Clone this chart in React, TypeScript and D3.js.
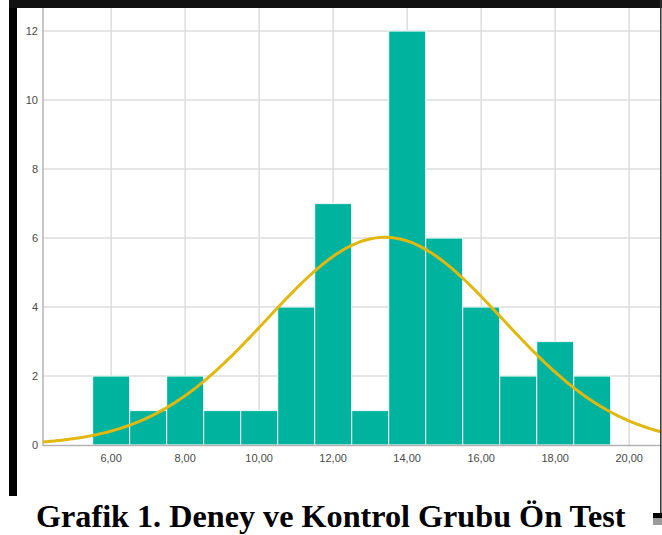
import React from 'react';
import * as d3 from 'd3';

// histogram bins (bin centre, count)
const binCenters = [6, 7, 8, 9, 10, 11, 12, 13, 14, 15, 16, 17, 18, 19];
const binCounts = [2, 1, 2, 1, 1, 4, 7, 1, 12, 6, 4, 2, 3, 2];
const xTicks = [6, 8, 10, 12, 14, 16, 18, 20];
const yTicks = [0, 2, 4, 6, 8, 10, 12];
const caption = 'Grafik 1. Deney ve Kontrol Grubu Ön Test';

const W = 662;
const H = 535;

const App = () => {
  const x = d3.scaleLinear().domain([4.16, 20.86]).range([43, 661]);
  const y = d3.scaleLinear().domain([0, 12]).range([445, 31]);

  // normal curve fitted to the binned data (like SPSS does)
  const n = d3.sum(binCounts);
  const mean = d3.sum(binCenters.map((c, i) => c * binCounts[i])) / n;
  const sd = Math.sqrt(
    d3.sum(binCenters.map((c, i) => binCounts[i] * (c - mean) ** 2)) / (n - 1)
  );
  const dens = (v) =>
    (n * 1 / (sd * Math.sqrt(2 * Math.PI))) * Math.exp(-0.5 * ((v - mean) / sd) ** 2);
  const [x0, x1] = x.domain();
  const curvePts = d3.range(x0, x1 + 0.01, 0.05).map((v) => [v, dens(v)]);
  const line = d3.line().x((d) => x(d[0])).y((d) => y(d[1])).curve(d3.curveBasis);

  const fmt = (v) => v.toFixed(2).replace('.', ',');

  return (
    <div style={{ position: 'absolute', left: 0, top: 0 }}>
      <svg width={W} height={H} style={{ display: 'block' }}>
        <rect x={0} y={0} width={W} height={H} fill="#fff" />

        {/* grid */}
        {yTicks.filter((t) => t > 0).map((t) => (
          <line key={'gy' + t} x1={43} x2={661} y1={y(t)} y2={y(t)}
            stroke="#dcdcdc" strokeWidth={1.5} />
        ))}
        {xTicks.map((t) => (
          <line key={'gx' + t} x1={x(t)} x2={x(t)} y1={8} y2={445}
            stroke="#dcdcdc" strokeWidth={1.5} />
        ))}

        {/* bars */}
        {binCenters.map((c, i) => (
          <rect key={'b' + c}
            x={x(c - 0.5)} y={y(binCounts[i])}
            width={x(c + 0.5) - x(c - 0.5)} height={y(0) - y(binCounts[i])}
            fill="#00b39e" stroke="#e8f7f3" strokeWidth={1.2} />
        ))}

        {/* axes */}
        <line x1={43} x2={43} y1={8} y2={446} stroke="#b4b4b4" strokeWidth={1.5} />
        <line x1={43} x2={661} y1={445.5} y2={445.5} stroke="#b4b4b4" strokeWidth={1.5} />

        {/* normal curve */}
        <path d={line(curvePts)} fill="none" stroke="#e1b80f" strokeWidth={3} />

        {/* tick labels */}
        {yTicks.map((t) => (
          <text key={'ty' + t} x={38} y={y(t)} dy="0.35em" textAnchor="end"
            fontFamily="Liberation Sans, Arial, sans-serif" fontSize={11} fill="#4a4a4a">
            {t}
          </text>
        ))}
        {xTicks.map((t) => (
          <text key={'tx' + t} x={x(t)} y={462} textAnchor="middle"
            fontFamily="Liberation Sans, Arial, sans-serif" fontSize={11} fill="#4a4a4a">
            {fmt(t)}
          </text>
        ))}

        {/* black frame of the screenshot */}
        <rect x={9} y={0} width={8} height={496} fill="#000" />
        <rect x={9} y={0} width={W - 9} height={8} fill="#111" />
        <line x1={660.8} x2={660.8} y1={0} y2={513} stroke="#333" strokeWidth={1.5} />
        <rect x={653} y={513} width={9} height={5} fill="#000" />
        <rect x={653} y={518} width={9} height={7} fill="#9a9a9a" />

        {/* caption */}
        <text x={36} y={527} fontFamily="Liberation Serif, Times New Roman, serif"
          fontWeight="bold" fontSize={32.2} fill="#000">
          {caption}
        </text>
      </svg>
    </div>
  );
};

export default App;
